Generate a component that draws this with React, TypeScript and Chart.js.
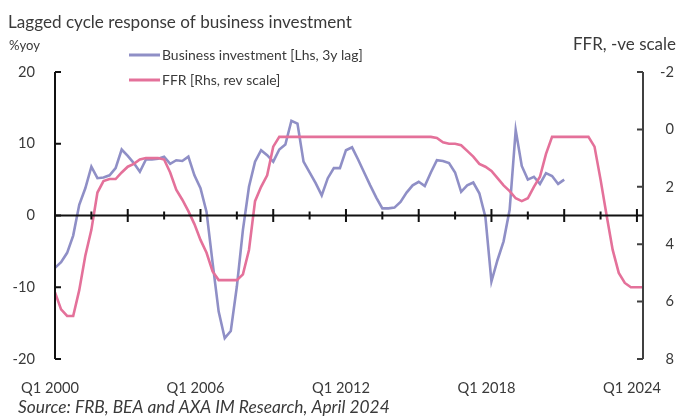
import React, { useEffect, useRef } from 'react';
import { Chart, registerables } from 'chart.js';

Chart.register(...registerables);

// ---- Data ----
const START_YEAR = 2000;
const N_QUARTERS = 98; // Q1 2000 .. Q2 2024
const categories: string[] = [];
for (let i = 0; i < N_QUARTERS; i++) {
  categories.push(`Q${(i % 4) + 1} ${START_YEAR + Math.floor(i / 4)}`);
}

const xTickLabels = ['Q1 2000', 'Q1 2006', 'Q1 2012', 'Q1 2018', 'Q1 2024'];
const leftAxisRange = [-20, 20];
const leftAxisStep = 10;
const rightAxisRange = [-2, 8];
const rightAxisStep = 2;

// Business investment, %yoy (3y lag), quarterly from Q1 2000
const businessInvestment = [
  -7.3, -6.5, -5.2, -2.8, 1.5, 3.8, 6.8, 5.2, 5.3, 5.6,
  6.6, 9.2, 8.3, 7.3, 6.1, 7.8, 7.8, 7.9, 8.2, 7.2,
  7.7, 7.6, 8.2, 5.6, 3.8, 0.5, -6.6, -13.4, -17.1, -16.1,
  -9.9, -2.0, 4.0, 7.5, 9.1, 8.4, 7.5, 9.2, 9.9, 13.2,
  12.8, 7.5, 6.0, 4.5, 2.8, 5.2, 6.6, 6.6, 9.1, 9.5,
  7.8, 6.0, 4.2, 2.5, 1.0, 1.0, 1.1, 1.9, 3.2, 4.2,
  4.7, 4.1, 6.0, 7.7, 7.6, 7.3, 6.0, 3.3, 4.2, 4.6,
  3.1, -0.2, -9.2, -6.2, -3.6, 0.8, 11.9, 6.9, 5.0, 5.4,
  4.4, 5.9, 5.5, 4.4, 5.0,
];

// Fed funds rate, % (plotted on reversed right scale), quarterly from Q1 2000
const ffr = [
  5.68, 6.27, 6.5, 6.5, 5.6, 4.4, 3.5, 2.2, 1.8, 1.73,
  1.73, 1.5, 1.3, 1.2, 1.05, 1.0, 1.0, 1.0, 1.05, 1.5,
  2.1, 2.45, 2.85, 3.3, 3.85, 4.3, 4.95, 5.25, 5.25, 5.25,
  5.25, 5.05, 4.2, 2.5, 2.0, 1.6, 0.6, 0.26, 0.26, 0.26,
  0.26, 0.26, 0.26, 0.26, 0.26, 0.26, 0.26, 0.26, 0.26, 0.26,
  0.26, 0.26, 0.26, 0.26, 0.26, 0.26, 0.26, 0.26, 0.26, 0.26,
  0.26, 0.26, 0.26, 0.3, 0.45, 0.5, 0.5, 0.55, 0.75, 0.95,
  1.2, 1.3, 1.45, 1.7, 1.95, 2.15, 2.4, 2.5, 2.4, 2.0,
  1.65, 0.85, 0.26, 0.26, 0.26, 0.26, 0.26, 0.26, 0.26, 0.6,
  1.75, 3.0, 4.2, 5.0, 5.35, 5.5, 5.5, 5.5,
];

const seriesNames = ['Business investment [Lhs, 3y lag]', 'FFR [Rhs, rev scale]'];
const TITLE = 'Lagged cycle response of business investment';
const LEFT_UNIT = '%yoy';
const RIGHT_UNIT = 'FFR, -ve scale';
const SOURCE = 'Source: FRB, BEA and AXA IM Research, April 2024';

// ---- Styles ----
const BLUE = '#8f8fc6';
const PINK = '#e4719a';
const TEXT = '#3a3a3a';
const FAM = 'Lato, "Noto Sans", sans-serif';

export default function App() {
  const ref = useRef<HTMLCanvasElement>(null);

  useEffect(() => {
    const canvas = ref.current!;
    const mctx = canvas.getContext('2d')!;
    const fit = (text: string, target: number, style = '') => {
      mctx.font = `${style} 100px ${FAM}`;
      return (100 * target) / mctx.measureText(text).width;
    };
    const tickSize = fit('Q1 2000', 58);
    const titleSize = fit(TITLE, 344);
    const legendSize = fit(seriesNames[0], 201);
    const leftUnitSize = fit(LEFT_UNIT, 31);
    const rightUnitSize = fit(RIGHT_UNIT, 103);
    const sourceSize = fit(SOURCE, 372, 'italic');

    const overlay = {
      id: 'overlay',
      afterDatasetsDraw(chart: any) {
        const { ctx, chartArea: a, scales } = chart;
        const xs = scales.x, ys = scales.y, y1 = scales.y1;
        ctx.save();
        ctx.lineCap = 'butt';
        ctx.lineWidth = 2;
        // left axis
        ctx.strokeStyle = '#111';
        ctx.beginPath();
        ctx.moveTo(a.left, a.top);
        ctx.lineTo(a.left, a.bottom);
        ys.ticks.forEach((t: any) => {
          const py = ys.getPixelForValue(t.value);
          ctx.moveTo(a.left, py);
          ctx.lineTo(a.left + 6, py);
        });
        ctx.stroke();
        // right axis
        ctx.strokeStyle = '#404040';
        ctx.beginPath();
        ctx.moveTo(a.right, a.top);
        ctx.lineTo(a.right, a.bottom);
        y1.ticks.forEach((t: any) => {
          const py = y1.getPixelForValue(t.value);
          ctx.moveTo(a.right, py);
          ctx.lineTo(a.right - 6, py);
        });
        ctx.stroke();
        // zero line with crossing ticks
        const y0 = ys.getPixelForValue(0);
        ctx.strokeStyle = '#111';
        ctx.beginPath();
        ctx.moveTo(a.left, y0);
        ctx.lineTo(a.right, y0);
        for (let i = 0; i < categories.length; i += 6) {
          const px = xs.getPixelForValue(i);
          const h = i % 12 === 0 ? 6.5 : 4;
          ctx.moveTo(px, y0 - h);
          ctx.lineTo(px, y0 + h);
        }
        ctx.stroke();

        // texts
        ctx.fillStyle = TEXT;
        ctx.textBaseline = 'alphabetic';
        ctx.textAlign = 'left';
        ctx.font = `${titleSize}px ${FAM}`;
        ctx.fillText(TITLE, 8, 28);
        ctx.font = `${leftUnitSize}px ${FAM}`;
        ctx.fillText(LEFT_UNIT, 9, 50);
        ctx.font = `${rightUnitSize}px ${FAM}`;
        ctx.fillText(RIGHT_UNIT, 573, 50);
        ctx.font = `italic ${sourceSize}px ${FAM}`;
        ctx.fillText(SOURCE, 18, 413);

        // legend
        const legendRows = [
          { name: seriesNames[0], color: BLUE, y: 55 },
          { name: seriesNames[1], color: PINK, y: 80 },
        ];
        legendRows.forEach((r) => {
          ctx.strokeStyle = r.color;
          ctx.lineWidth = 3;
          ctx.beginPath();
          ctx.moveTo(129, r.y);
          ctx.lineTo(160, r.y);
          ctx.stroke();
          ctx.fillStyle = TEXT;
          ctx.font = `${legendSize}px ${FAM}`;
          ctx.fillText(r.name, 162, r.y + 5);
        });
        ctx.restore();
      },
    };

    const chart = new Chart(canvas, {
      type: 'line',
      data: {
        labels: categories,
        datasets: [
          {
            label: seriesNames[0],
            data: businessInvestment,
            borderColor: BLUE,
            borderWidth: 2.6,
            pointRadius: 0,
            tension: 0,
            fill: false,
            yAxisID: 'y',
            order: 1,
          },
          {
            label: seriesNames[1],
            data: ffr,
            borderColor: PINK,
            borderWidth: 2.6,
            pointRadius: 0,
            tension: 0,
            fill: false,
            yAxisID: 'y1',
            order: 0,
          },
        ],
      },
      options: {
        responsive: false,
        maintainAspectRatio: false,
        animation: false,
        layout: { padding: { top: 72, left: 0, right: 6, bottom: 0 } },
        plugins: {
          legend: { display: false },
          title: { display: false },
          tooltip: { enabled: false },
        },
        scales: {
          x: {
            type: 'category',
            position: 'bottom',
            grid: { display: false, drawTicks: false },
            border: { display: false },
            ticks: {
              autoSkip: false,
              maxRotation: 0,
              minRotation: 0,
              padding: 29 - 0.6 * tickSize,
              labelOffset: -5,
              color: TEXT,
              font: { family: FAM, size: tickSize },
              callback: (_v: any, i: number) =>
                xTickLabels.includes(categories[i]) ? categories[i] : '',
            },
            afterFit: (s: any) => {
              s.height = 59;
            },
          },
          y: {
            position: 'left',
            min: leftAxisRange[0],
            max: leftAxisRange[1],
            grid: { display: false, drawTicks: false },
            border: { display: false },
            ticks: {
              stepSize: leftAxisStep,
              padding: 20,
              color: TEXT,
              font: { family: FAM, size: tickSize },
            },
            afterFit: (s: any) => {
              s.width = 55;
            },
          },
          y1: {
            position: 'right',
            min: rightAxisRange[0],
            max: rightAxisRange[1],
            reverse: true,
            grid: { display: false, drawTicks: false },
            border: { display: false },
            ticks: {
              stepSize: rightAxisStep,
              crossAlign: 'far',
              color: TEXT,
              font: { family: FAM, size: tickSize },
            },
            afterFit: (s: any) => {
              s.width = 31;
            },
          },
        },
      },
      plugins: [overlay],
    } as any);

    return () => chart.destroy();
  }, []);

  return (
    <div
      style={{
        position: 'fixed',
        left: 0,
        top: 0,
        width: 680,
        height: 418,
        background: '#fff',
      }}
    >
      <canvas
        ref={ref}
        width={680}
        height={418}
        style={{ display: 'block', width: 680, height: 418 }}
      />
    </div>
  );
}
